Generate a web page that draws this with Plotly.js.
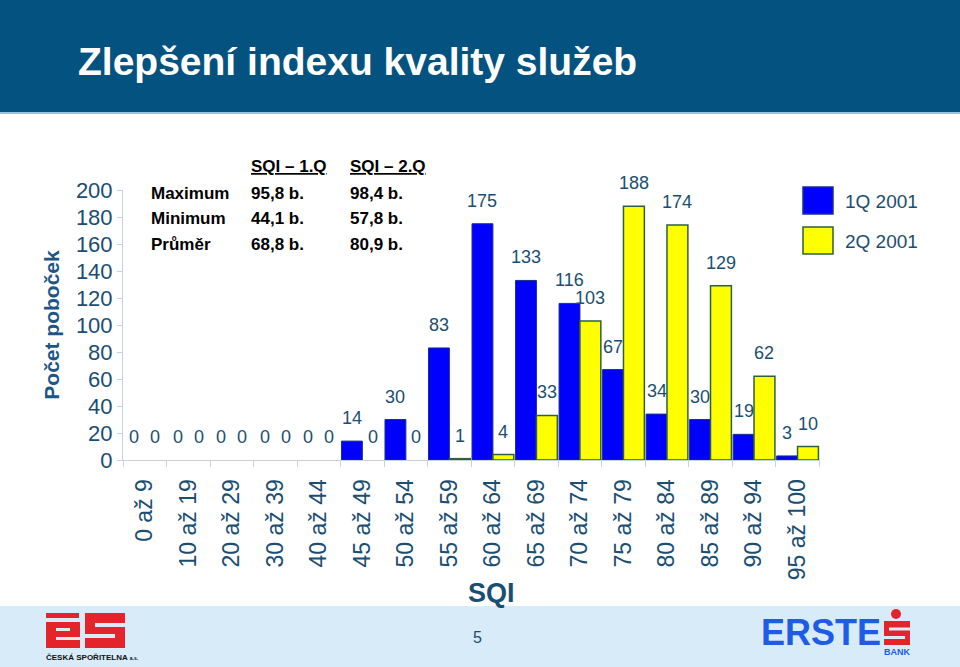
<!DOCTYPE html>
<html>
<head>
<meta charset="utf-8">
<script src="https://cdn.plot.ly/plotly-3.0.1.min.js"></script>
<style>
  html, body { margin: 0; padding: 0; background: #ffffff; }
  #chart { width: 960px; height: 667px; }
</style>
</head>
<body>
<div id="chart"></div>
<script>
// ---- data ----
const chartTitle = 'Zlepšení indexu kvality služeb';
const categories = ['0 až 9','10 až 19','20 až 29','30 až 39','40 až 44','45 až 49','50 až 54','55 až 59',
                    '60 až 64','65 až 69','70 až 74','75 až 79','80 až 84','85 až 89','90 až 94','95 až 100'];
const q1Values = [0,0,0,0,0,14,30,83,175,133,116,67,34,30,19,3];
const q2Values = [0,0,0,0,0,0,0,1,4,33,103,188,174,129,62,10];
const seriesNames = ['1Q 2001','2Q 2001'];
const yTickValues = [0,20,40,60,80,100,120,140,160,180,200];
const yTitle = 'Počet poboček';
const xTitle = 'SQI';
const tableHeaders = ['SQI – 1.Q','SQI – 2.Q'];
const tableRowNames = ['Maximum','Minimum','Průměr'];
const tableQ1 = ['95,8 b.','44,1 b.','68,8 b.'];
const tableQ2 = ['98,4 b.','57,8 b.','80,9 b.'];
const pageNumber = '5';
const leftLogoText = 'ČESKÁ SPOŘITELNA';
const rightLogoText = 'ERSTE';
const rightLogoSub = 'BANK';

// ---- layout geometry ----
const W = 960, H = 667;
const M = {l: 123, r: 140, t: 190, b: 207};
const plotW = W - M.l - M.r, plotH = H - M.t - M.b;
const px = x => (x - M.l) / plotW;          // page px -> paper x
const py = y => (H - M.b - y) / plotH;      // page px -> paper y
const bargap = 0.04;
const halfBar = plotW / categories.length * (1 - bargap) / 4;

const textColor = '#1a4e72';
const font = 'Liberation Sans, Arial, sans-serif';
const blue = '#0000ff', yellow = '#ffff00';
const red = '#e3242b', footerBg = '#d7ebf8';

const traces = [
  {type: 'bar', name: seriesNames[0], x: categories, y: q1Values,
   marker: {color: blue, line: {color: '#1a2f8a', width: q1Values.map(v => v === 0 ? 0 : 1)}}, hoverinfo: 'skip'},
  {type: 'bar', name: seriesNames[1], x: categories, y: q2Values,
   marker: {color: yellow, line: {color: '#2f5f3f', width: q2Values.map(v => v === 0 ? 0 : 1.5)}}, hoverinfo: 'skip'}
];

const annotations = [];
// value labels
[q1Values, q2Values].forEach((vals, s) => {
  vals.forEach((v, i) => {
    annotations.push({x: categories[i], y: v, xref: 'x', yref: 'y',
      xshift: (s === 0 ? -1 : 1) * halfBar, yshift: 23, yanchor: 'middle',
      text: String(v), showarrow: false, font: {family: font, size: 18, color: textColor}});
  });
});
// statistics table
const tblFont = {family: font, size: 17, color: '#000000'};
tableHeaders.forEach((h, j) => annotations.push({xref: 'paper', yref: 'paper',
  x: px(j === 0 ? 249 : 348), y: py(167), xanchor: 'left', yanchor: 'middle',
  text: '<b><u>' + h + '</u></b>', showarrow: false, font: tblFont}));
tableRowNames.forEach((r, k) => {
  const yy = py(193 + k * 25.5);
  annotations.push({xref: 'paper', yref: 'paper', x: px(149), y: yy, xanchor: 'left', yanchor: 'middle',
    text: '<b>' + r + '</b>', showarrow: false, font: tblFont});
  annotations.push({xref: 'paper', yref: 'paper', x: px(249), y: yy, xanchor: 'left', yanchor: 'middle',
    text: '<b>' + tableQ1[k] + '</b>', showarrow: false, font: tblFont});
  annotations.push({xref: 'paper', yref: 'paper', x: px(348), y: yy, xanchor: 'left', yanchor: 'middle',
    text: '<b>' + tableQ2[k] + '</b>', showarrow: false, font: tblFont});
});
// legend text
seriesNames.forEach((n, k) => annotations.push({xref: 'paper', yref: 'paper',
  x: px(843), y: py(201 + k * 40), xanchor: 'left', yanchor: 'middle',
  text: n, showarrow: false, font: {family: font, size: 19, color: textColor}}));
// x axis title
annotations.push({xref: 'paper', yref: 'paper', x: px(491), y: py(593), xanchor: 'center', yanchor: 'middle',
  text: '<b>' + xTitle + '</b>', showarrow: false, font: {family: font, size: 27, color: textColor}});
// footer
annotations.push({xref: 'paper', yref: 'paper', x: px(477), y: py(637), xanchor: 'center', yanchor: 'middle',
  text: pageNumber, showarrow: false, font: {family: font, size: 16, color: textColor}});
annotations.push({xref: 'paper', yref: 'paper', x: px(44), y: py(657), xanchor: 'left', yanchor: 'middle',
  text: '<b>' + leftLogoText + ' <span style="font-size:5px">a.s.</span></b>', showarrow: false,
  font: {family: font, size: 8, color: '#111111'}});
annotations.push({xref: 'paper', yref: 'paper', x: px(759), y: py(632), xanchor: 'left', yanchor: 'middle',
  text: '<b>' + rightLogoText + '</b>', showarrow: false, font: {family: font, size: 36, color: '#1f5ce6'}});
annotations.push({xref: 'paper', yref: 'paper', x: px(897), y: py(652), xanchor: 'center', yanchor: 'middle',
  text: '<b>' + rightLogoSub + '</b>', showarrow: false, font: {family: font, size: 9, color: '#1f5ce6'}});

const rect = (x0, y0, x1, y1, fill, line, layer) => ({type: 'rect', xref: 'paper', yref: 'paper',
  x0: px(x0), x1: px(x1), y0: py(y1), y1: py(y0), fillcolor: fill,
  line: line ? {color: line, width: 1.5} : {width: 0}, layer: layer || 'above'});

const shapes = [
  rect(0, 0, 960, 112, '#03527f', null, 'below'),
  rect(0, 112, 960, 114, '#9cc3dc', null, 'below'),
  rect(0, 606, 960, 667, footerBg, null, 'below'),
  rect(803, 187, 833, 214, blue, '#1a2f8a'),
  rect(803, 227, 833, 254, yellow, '#2f5f3f'),
  // left logo (ČS)
  rect(46, 613, 79, 618, red),
  rect(46, 622, 80, 648, red),
  rect(56, 628, 70, 631, footerBg),
  rect(56, 637, 80, 640, footerBg),
  rect(85, 613, 125, 648, red),
  rect(95, 623, 125, 627, footerBg),
  rect(85, 634, 115, 638, footerBg),
  // right bank icon
  {type: 'circle', xref: 'paper', yref: 'paper', x0: px(891), x1: px(901), y0: py(619), y1: py(609),
   fillcolor: red, line: {width: 0}},
  rect(884, 621, 910, 645, red),
  rect(889, 627.5, 910, 630.5, footerBg),
  rect(884, 636, 905, 639, footerBg)
];

const layout = {
  width: W, height: H, margin: M, showlegend: false,
  paper_bgcolor: 'rgba(0,0,0,0)', plot_bgcolor: 'rgba(0,0,0,0)',
  font: {family: font, color: textColor},
  title: {text: chartTitle, xref: 'container', yref: 'container', x: 78 / W, xanchor: 'left',
          y: 1 - 61 / H, yanchor: 'middle', font: {family: font, size: 39, color: '#ffffff', weight: 'bold'}},
  barmode: 'group', bargap: bargap, bargroupgap: 0,
  xaxis: {type: 'category', showline: true, linecolor: '#c5d4dc', linewidth: 1,
          ticks: 'outside', tickson: 'boundaries', ticklen: 6, tickcolor: '#c5d4dc',
          ticklabelstandoff: 9,
          tickangle: -90, tickfont: {size: 23, color: textColor}, showgrid: false, zeroline: false,
          fixedrange: true},
  yaxis: {range: [0, 200], tickvals: yTickValues, showline: true, linecolor: '#c5d4dc', linewidth: 1,
          ticks: 'outside', ticklen: 5, tickcolor: '#c5d4dc', tickfont: {size: 22, color: textColor},
          showgrid: false, zeroline: false, fixedrange: true,
          title: {text: yTitle, standoff: 10, font: {size: 21, color: '#1d5686', weight: 'bold'}}},
  annotations: annotations, shapes: shapes
};

Plotly.newPlot('chart', traces, layout, {displayModeBar: false, staticPlot: true});
</script>
</body>
</html>
